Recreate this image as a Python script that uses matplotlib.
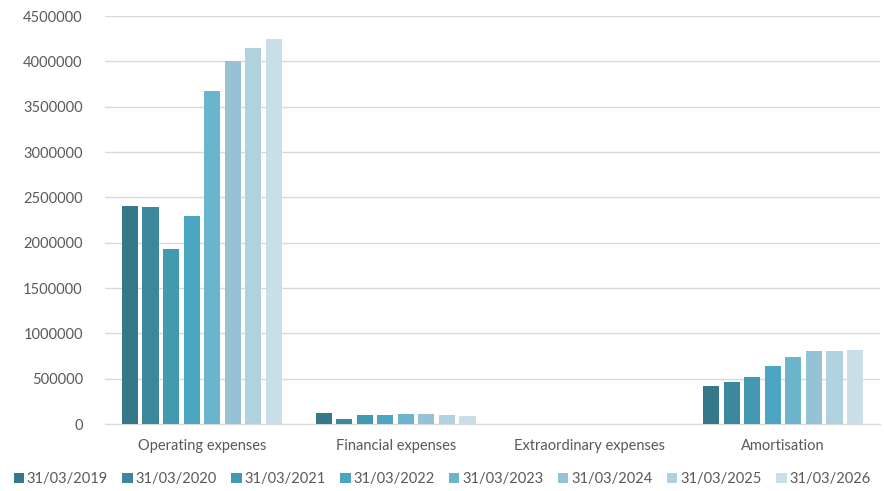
import numpy as np
import matplotlib.pyplot as plt

# expense categories and yearly values
categories = ["Operating expenses", "Financial expenses", "Extraordinary expenses", "Amortisation"]
periods = ["31/03/2019", "31/03/2020", "31/03/2021", "31/03/2022",
           "31/03/2023", "31/03/2024", "31/03/2025", "31/03/2026"]
operating = [2405000, 2398000, 1930000, 2298000, 3676000, 4003000, 4143000, 4246000]
financial = [125000, 50000, 95000, 95000, 110000, 110000, 95000, 85000]
extraordinary = [0, 0, 0, 0, 0, 0, 0, 0]
amortisation = [419000, 459000, 515000, 640000, 742000, 808000, 800000, 816000]

colors = ["#34788A", "#3B889C", "#4399B0", "#4BA7C1",
          "#6AB4CC", "#95C3D5", "#B0D2DF", "#C8DFE7"]

plt.rcParams['font.family'] = ['Lato', 'DejaVu Sans']
text_color = "#595959"

values = np.array([operating, financial, extraordinary, amortisation]).T

fig = plt.figure(figsize=(8.84, 4.91), dpi=100)
ax = fig.add_axes([105 / 884, 67 / 491, 775 / 884, 408 / 491])

x = np.arange(len(categories))
step = 0.106
width = 0.083
for i, period in enumerate(periods):
    offset = (i - (len(periods) - 1) / 2) * step
    ax.bar(x + offset, values[i], width=width, color=colors[i], label=period, zorder=3)

ax.set_xlim(-0.5, 3.5)
ax.set_ylim(0, 4500000)
ax.set_yticks(np.arange(0, 4500001, 500000))
ax.set_yticklabels([str(v) for v in range(0, 4500001, 500000)])
ax.set_xticks(x)
ax.set_xticklabels(categories)
ax.grid(axis='y', color="#D9D9D9", linewidth=1, zorder=0)
ax.tick_params(axis='both', length=0, colors=text_color, labelsize=10.5)
ax.tick_params(axis='y', pad=16)
ax.tick_params(axis='x', pad=11)
for side in ["top", "right", "left"]:
    ax.spines[side].set_visible(False)
ax.spines["bottom"].set_color("#D9D9D9")

leg = ax.legend(loc='upper center', bbox_to_anchor=(0.435, -0.085), ncol=8, frameon=False,
                handlelength=0.7, handleheight=0.7, handletextpad=0.2, columnspacing=1.0,
                fontsize=10.5)
for t in leg.get_texts():
    t.set_color(text_color)

fig.savefig("out.png", dpi=100)
